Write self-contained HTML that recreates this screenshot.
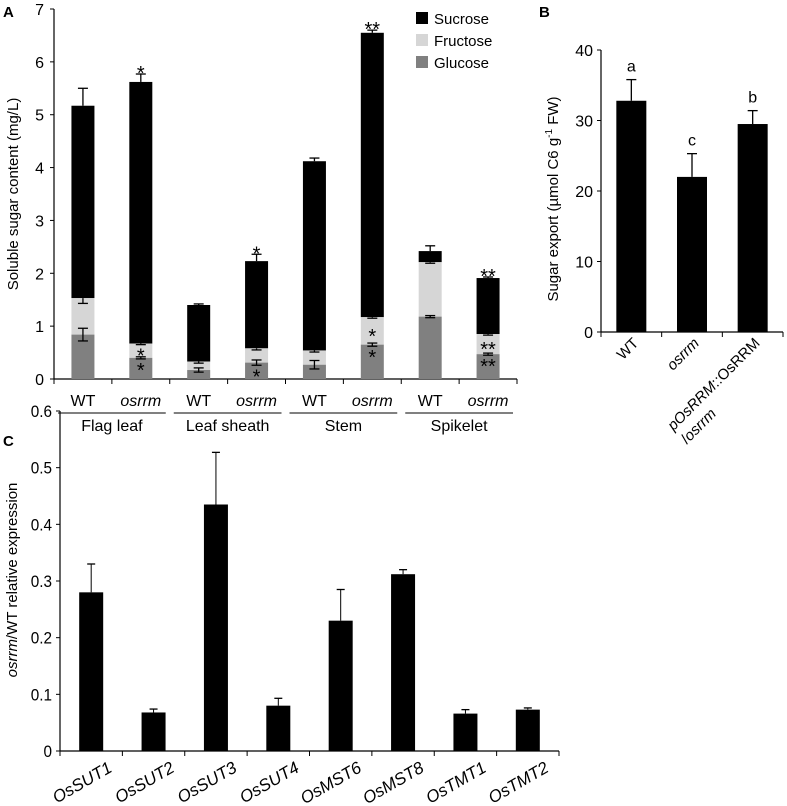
<!DOCTYPE html>
<html><head><meta charset="utf-8"><style>
html,body{margin:0;padding:0;background:#fff;}
svg{display:block;font-family:"Liberation Sans",Arial,sans-serif;}
</style></head><body>
<svg id="fig" width="787" height="806" viewBox="0 0 787 806" xmlns="http://www.w3.org/2000/svg">
<g id="pa"></g>
<g id="pb"></g>
<g id="pc"></g>
</svg>
<script>
// Panel A data
const aGroups = ["Flag leaf","Leaf sheath","Stem","Spikelet"];
const aGeno = ["WT","osrrm","WT","osrrm","WT","osrrm","WT","osrrm"];
const aGlucose = [0.84,0.40,0.17,0.31,0.27,0.65,1.18,0.47];
const aGlucoseErr = [0.12,0.02,0.04,0.05,0.08,0.03,0.02,0.02];
const aFructoseTop = [1.53,0.67,0.33,0.58,0.54,1.17,2.21,0.85];
const aFructoseErr = [0.10,0.02,0.03,0.03,0.03,0.02,0.02,0.02];
const aTotal = [5.17,5.62,1.40,2.23,4.12,6.55,2.42,1.91];
const aTotalErr = [0.33,0.15,0.02,0.13,0.06,0.05,0.10,0.02];
const aStarTop = ["","*","","*","","**","","**"];
const aStarFru = ["","*","","","","*","","**"];
const aStarGlu = ["","*","","*","","*","","**"];
const aTicks = [0,1,2,3,4,5,6,7];
// Panel B data
const bCats = ["WT","osrrm","pOsRRM::OsRRM"];
const bVals = [32.8,22.0,29.5];
const bErr = [3.0,3.3,1.9];
const bLetters = ["a","c","b"];
const bTicks = [0,10,20,30,40];
// Panel C data
const cCats = ["OsSUT1","OsSUT2","OsSUT3","OsSUT4","OsMST6","OsMST8","OsTMT1","OsTMT2"];
const cVals = [0.28,0.068,0.435,0.08,0.23,0.312,0.066,0.073];
const cErr = [0.05,0.006,0.092,0.013,0.055,0.008,0.007,0.003];
const cTicks = [0,0.1,0.2,0.3,0.4,0.5,0.6];

const NS="http://www.w3.org/2000/svg";
function mk(parent,tag,attrs,txt){const e=document.createElementNS(NS,tag);for(const k in attrs)e.setAttribute(k,attrs[k]);if(txt!==undefined)e.textContent=txt;parent.appendChild(e);return e;}

// ---------- Panel A ----------
(function(){
const g=document.getElementById('pa');
const x0=54,x1=517,y0=379,yTop=9,ymax=7;
const ya=v=>y0-(y0-yTop)*v/ymax;
const step=(x1-x0)/aGeno.length;
const xa=i=>x0+step*(i+0.5);
const bw=23;
let t=mk(g,'text',{x:3,y:17,'font-size':15,'font-weight':'bold'},'A');


let ax=mk(g,'line',{x1:x0,y1:yTop,x2:x0,y2:y0,stroke:'#000','stroke-width':1.2});


let xl=mk(g,'line',{x1:x0,y1:y0,x2:x1,y2:y0,stroke:'#000','stroke-width':1.2});


aTicks.forEach(v=>{
 let tk=mk(g,'line',{x1:x0-4,y1:ya(v),x2:x0,y2:ya(v),stroke:'#000'});
 
 
 let tl=mk(g,'text',{x:x0-10,y:ya(v)+6,'font-size':16,'text-anchor':'end'},v);
 
 
});
for(let i=0;i<=aGeno.length;i++){
 let tk=mk(g,'line',{x1:x0+step*i,y1:y0,x2:x0+step*i,y2:y0+5,stroke:'#000'});
 
 
}
let yt=mk(g,'text',{x:0,y:0,'font-size':15,'text-anchor':'middle',transform:'translate(18,194) rotate(-90)'},'Soluble sugar content (mg/L)');


function err(x,yv,yv2){
 mk(g,'line',{x1:x,y1:ya(yv),x2:x,y2:ya(yv2),stroke:'#000','stroke-width':1.3});
 mk(g,'line',{x1:x-5,y1:ya(yv2),x2:x+5,y2:ya(yv2),stroke:'#000','stroke-width':1.3});
}
aGeno.forEach((gn,i)=>{
 const cx=xa(i);
 let s=mk(g,'rect',{x:cx-bw/2,y:ya(aTotal[i]),width:bw,height:ya(aFructoseTop[i])-ya(aTotal[i]),fill:'#000'});
 
 
 let f=mk(g,'rect',{x:cx-bw/2,y:ya(aFructoseTop[i]),width:bw,height:ya(aGlucose[i])-ya(aFructoseTop[i]),fill:'#d6d6d6'});
 
 
 let gl=mk(g,'rect',{x:cx-bw/2,y:ya(aGlucose[i]),width:bw,height:y0-ya(aGlucose[i]),fill:'#808080'});
 
 
 err(cx,aTotal[i],aTotal[i]+aTotalErr[i]);
 err(cx,aFructoseTop[i],aFructoseTop[i]-aFructoseErr[i]);
 err(cx,aGlucose[i]-aGlucoseErr[i],aGlucose[i]+aGlucoseErr[i]);
 mk(g,'line',{x1:cx-5,y1:ya(aGlucose[i]-aGlucoseErr[i]),x2:cx+5,y2:ya(aGlucose[i]-aGlucoseErr[i]),stroke:'#000','stroke-width':1.3});
 if(aStarTop[i]){let st=mk(g,'text',{x:cx,y:ya(aTotal[i]+aTotalErr[i])+6,'font-size':20,'text-anchor':'middle'},aStarTop[i]);
  
  }
 if(aStarFru[i]){let st=mk(g,'text',{x:cx,y:(ya(aFructoseTop[i])+ya(aGlucose[i]))/2+12,'font-size':20,'text-anchor':'middle'},aStarFru[i]);
  
  }
 if(aStarGlu[i]){let st=mk(g,'text',{x:cx,y:Math.min(ya(aGlucose[i]-aGlucoseErr[i])+18,y0+8),'font-size':20,'text-anchor':'middle'},aStarGlu[i]);
  
  }
 let gt=mk(g,'text',{x:cx,y:406,'font-size':16,'text-anchor':'middle','font-style':gn==='WT'?'normal':'italic'},gn);
 
 
});
aGroups.forEach((nm,j)=>{
 const cx=x0+step*(2*j+1);
 let ln=mk(g,'line',{x1:cx-step+4,y1:413,x2:cx+step-4,y2:413,stroke:'#000'});
 
 
 let tl=mk(g,'text',{x:cx,y:431,'font-size':16,'text-anchor':'middle'},nm);
 
 
});
const leg=[["Sucrose","#000"],["Fructose","#d6d6d6"],["Glucose","#808080"]];
leg.forEach((l,k)=>{
 let r=mk(g,'rect',{x:416,y:12+k*22,width:12,height:12,fill:l[1]});
 
 
 let tx=mk(g,'text',{x:434,y:24+k*22,'font-size':15},l[0]);
 
 
});
})();

// ---------- Panel B ----------
(function(){
const g=document.getElementById('pb');
const x0=601,x1=783,y0=332,yTop=50,ymax=40;
const yb=v=>y0-(y0-yTop)*v/ymax;
const step=(x1-x0)/bCats.length;
const xb=i=>x0+step*(i+0.5);
const bw=30;
let t=mk(g,'text',{x:539,y:17,'font-size':15,'font-weight':'bold'},'B');


let ax=mk(g,'line',{x1:x0,y1:yTop,x2:x0,y2:y0,stroke:'#000','stroke-width':1.2});


let xl=mk(g,'line',{x1:x0,y1:y0,x2:x1,y2:y0,stroke:'#000','stroke-width':1.2});


bTicks.forEach(v=>{
 let tk=mk(g,'line',{x1:x0-4,y1:yb(v),x2:x0,y2:yb(v),stroke:'#000'});
 
 
 let tl=mk(g,'text',{x:x0-8,y:yb(v)+6,'font-size':16,'text-anchor':'end'},v);
 
 
});
for(let i=0;i<=bCats.length;i++){
 let tk=mk(g,'line',{x1:x0+step*i,y1:y0,x2:x0+step*i,y2:y0+5,stroke:'#000'});
 
 
}
let yt=mk(g,'text',{x:0,y:0,'font-size':15,'text-anchor':'middle',transform:'translate(558,199) rotate(-90)'});


mk(yt,'tspan',{},'Sugar export (µmol C6 g');
mk(yt,'tspan',{'font-size':10,dy:-6},'-1');
mk(yt,'tspan',{dy:6},' FW)');
bCats.forEach((c,i)=>{
 const cx=xb(i);
 let b=mk(g,'rect',{x:cx-bw/2,y:yb(bVals[i]),width:bw,height:y0-yb(bVals[i]),fill:'#000'});
 
 
 const top=bVals[i]+bErr[i];
 mk(g,'line',{x1:cx,y1:yb(bVals[i]),x2:cx,y2:yb(top),stroke:'#000','stroke-width':1.3});
 mk(g,'line',{x1:cx-5,y1:yb(top),x2:cx+5,y2:yb(top),stroke:'#000','stroke-width':1.3});
 let lt=mk(g,'text',{x:cx,y:yb(top)-8,'font-size':16,'text-anchor':'middle'},bLetters[i]);
 
 
 const lx=cx+8,ly=344;
 let grp=mk(g,'g',{transform:`translate(${lx},${ly}) rotate(-45)`});
 
 
 let lab=mk(grp,'text',{x:0,y:0,'font-size':15,'text-anchor':'end'});
 
 
 if(i===0){lab.textContent=c;}
 else if(i===1){lab.textContent=c;lab.setAttribute('font-style','italic');}
 else{
  mk(lab,'tspan',{'font-style':'italic'},'pOsRRM');
  mk(lab,'tspan',{},'::OsRRM');
  const w=lab.getComputedTextLength?lab.getComputedTextLength():115;
  let l2=mk(grp,'text',{x:-(w||115),y:19,'font-size':15});
  
  
  mk(l2,'tspan',{},'/');
  mk(l2,'tspan',{'font-style':'italic'},'osrrm');
 }
});
})();

// ---------- Panel C ----------
(function(){
const g=document.getElementById('pc');
const x0=60,x1=559,y0=751,yTop=411,ymax=0.6;
const yc=v=>y0-(y0-yTop)*v/ymax;
const step=(x1-x0)/cCats.length;
const xc=i=>x0+step*(i+0.5);
const bw=24;
let t=mk(g,'text',{x:3,y:446,'font-size':15,'font-weight':'bold'},'C');


let ax=mk(g,'line',{x1:x0,y1:yTop,x2:x0,y2:y0,stroke:'#000','stroke-width':1.2});


let xl=mk(g,'line',{x1:x0,y1:y0,x2:x1,y2:y0,stroke:'#000','stroke-width':1.2});


cTicks.forEach(v=>{
 let tk=mk(g,'line',{x1:x0-4,y1:yc(v),x2:x0,y2:yc(v),stroke:'#000'});
 
 
 let tl=mk(g,'text',{x:x0-8,y:yc(v)+6,'font-size':17,'text-anchor':'end',transform:`translate(${(x0-8)*0.1},0) scale(0.9,1)`},v===0?'0':String(v));
 
 
});
for(let i=0;i<=cCats.length;i++){
 let tk=mk(g,'line',{x1:x0+step*i,y1:y0,x2:x0+step*i,y2:y0+5,stroke:'#000'});
 
 
}
let yt=mk(g,'text',{x:0,y:0,'font-size':15,'text-anchor':'middle',transform:'translate(17,580) rotate(-90)'});


mk(yt,'tspan',{'font-style':'italic'},'osrrm');
mk(yt,'tspan',{},'/WT relative expression');
cCats.forEach((c,i)=>{
 const cx=xc(i);
 let b=mk(g,'rect',{x:cx-bw/2,y:yc(cVals[i]),width:bw,height:y0-yc(cVals[i]),fill:'#000'});
 
 
 const top=cVals[i]+cErr[i];
 mk(g,'line',{x1:cx,y1:yc(cVals[i]),x2:cx,y2:yc(top),stroke:'#000','stroke-width':1});
 mk(g,'line',{x1:cx-4,y1:yc(top),x2:cx+4,y2:yc(top),stroke:'#000','stroke-width':1.3});
 let lab=mk(g,'text',{x:0,y:0,'font-size':17,'font-style':'italic','text-anchor':'end',transform:`translate(${cx+22},${y0+20}) rotate(-30)`},c);
 
 
});
})();
</script>
</body></html>
